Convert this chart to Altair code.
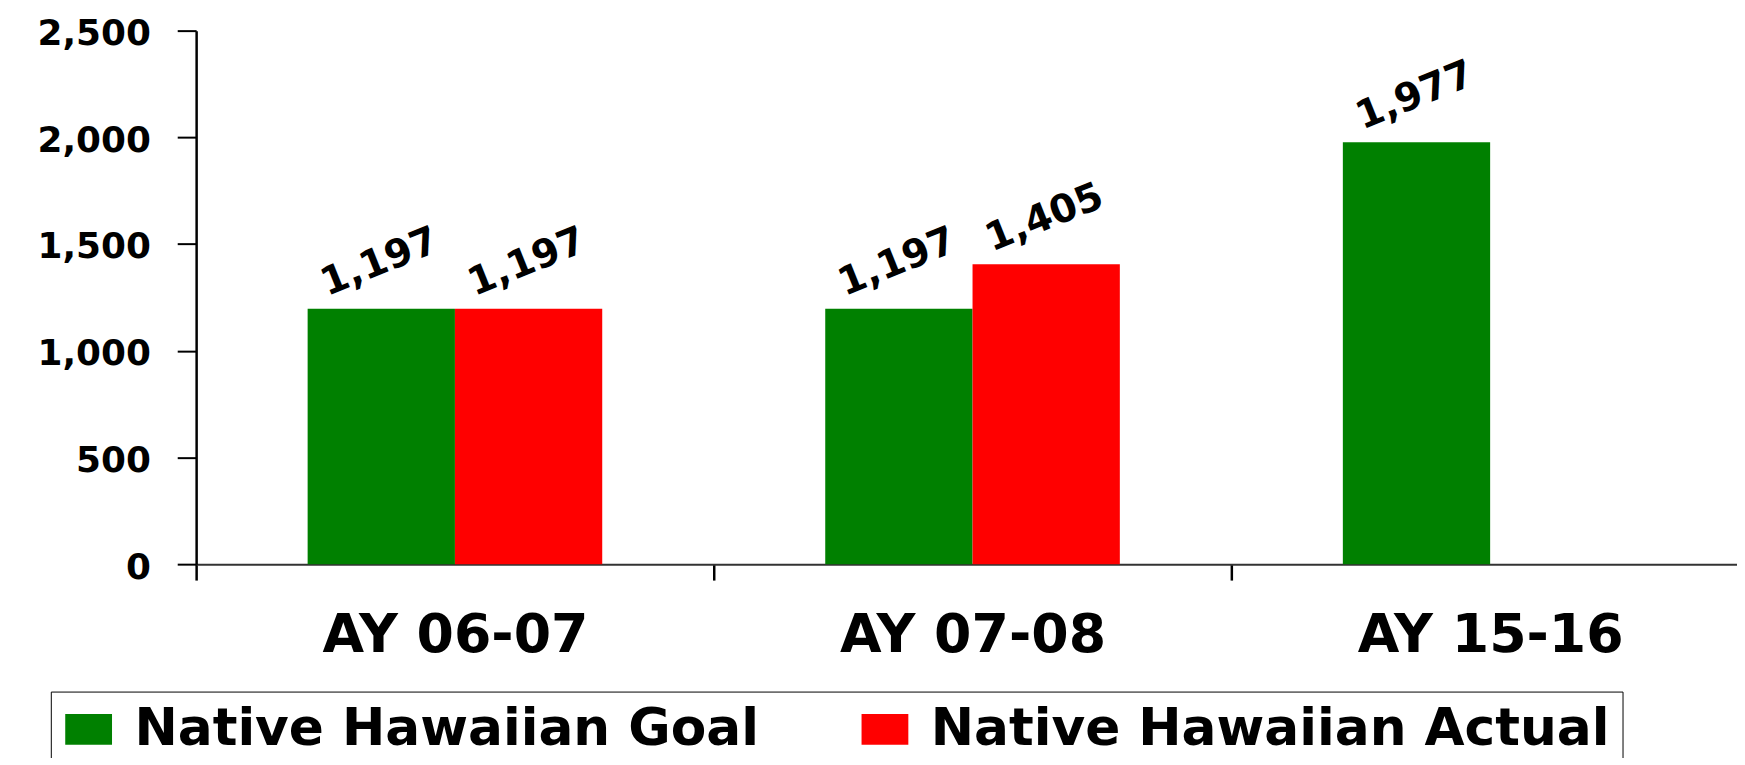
import altair as alt
import pandas as pd

categories = ["AY 06-07", "AY 07-08", "AY 15-16"]
goal = [1197, 1197, 1977]
actual = [1197, 1405, None]
series = ["Native Hawaiian Goal", "Native Hawaiian Actual"]
colors = ["#008000", "#FF0000"]
y_ticks = [0, 500, 1000, 1500, 2000, 2500]

rows = []
for c, g, a in zip(categories, goal, actual):
    rows.append({"cat": c, "series": series[0], "value": g})
    if a is not None:
        rows.append({"cat": c, "series": series[1], "value": a})
df = pd.DataFrame(rows)

FONT = "DejaVu Sans"

x = alt.X(
    "cat:N", sort=categories, title=None,
    scale=alt.Scale(domain=categories, paddingInner=0, paddingOuter=0, range=[0, 1560]),
    axis=alt.Axis(labelAngle=0, labelFont=FONT, labelFontSize=54, labelFontWeight="bold",
                  labelColor="black", labelBaseline="alphabetic", labelPadding=72,
                  labelLimit=0, labelOverlap=False, tickSize=16, tickWidth=2.5,
                  tickColor="black", tickBand="extent", domainColor="#333", domainWidth=2),
)
xo = alt.XOffset("series:N", sort=series,
                 scale=alt.Scale(domain=series, paddingInner=0, paddingOuter=0.757))
y = alt.Y(
    "value:Q", title=None,
    scale=alt.Scale(domain=[0, 2500], nice=False, zero=True),
    axis=alt.Axis(values=y_ticks, format=",d", grid=False, labelFont=FONT, labelFontSize=36,
                  labelFontWeight="bold", labelColor="black", labelPadding=27, labelOffset=3,
                  labelFlush=False, labelLimit=0, tickSize=19, tickWidth=2, tickColor="black",
                  domainColor="black", domainWidth=2.5),
)
color = alt.Color(
    "series:N", sort=series,
    scale=alt.Scale(domain=series, range=colors),
    legend=alt.Legend(title=None, orient="none", legendX=-146, legendY=664,
                      direction="horizontal", columns=2,
                      symbolType="M-1,-0.66H1V0.66H-1Z", symbolSize=2209,
                      symbolStrokeWidth=0, symbolOpacity=1,
                      labelFont=FONT, labelFontSize=52, labelFontWeight="bold",
                      labelColor="black", labelOffset=20, labelLimit=0,
                      columnPadding=100, padding=12, strokeColor="black", fillColor="white"),
)

bars = alt.Chart(df).mark_bar().encode(x=x, xOffset=xo, y=y, color=color)
text = alt.Chart(df).mark_text(
    angle=338, align="center", baseline="middle", dx=16, dy=-44,
    font=FONT, fontSize=39, fontWeight="bold", color="black",
).encode(x=x, xOffset=xo, y=y, text=alt.Text("value:Q", format=","))

chart = alt.layer(bars, text).properties(
    width=1548, height=536,
    padding={"left": 189, "top": 21, "right": 0, "bottom": 193},
    autosize=alt.AutoSizeParams(type="none"),
).configure_view(stroke=None)

chart.save("out.html", embed_options={"renderer": "svg", "actions": False})
